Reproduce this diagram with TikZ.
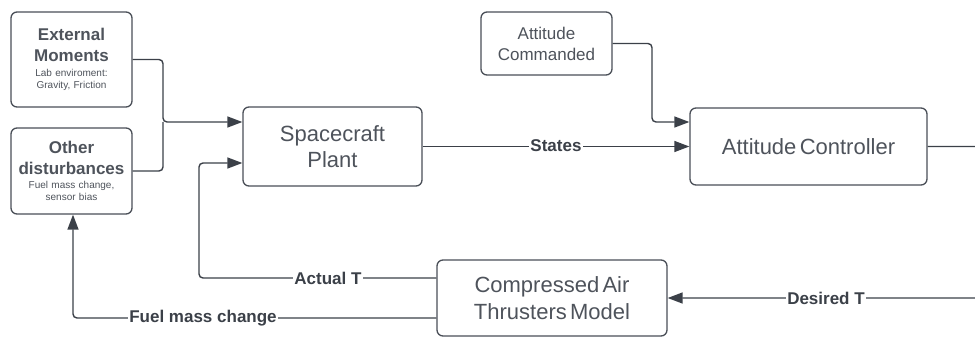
\documentclass[tikz,border=0pt]{standalone}
\usepackage{fontspec}
\setmainfont{Liberation Sans}
\usetikzlibrary{arrows.meta}
\definecolor{ink}{HTML}{3B4048}
\definecolor{txt}{HTML}{4E535B}
\definecolor{frame}{HTML}{4A4F57}
\begin{document}
\begin{tikzpicture}[x=1pt,y=-1pt,
  box/.style={draw=frame, line width=1.3pt, rounded corners=6pt, align=center, inner sep=0pt, text=txt},
  wire/.style={draw=ink, line width=1.4pt, rounded corners=4pt},
  flow/.style={wire, -{Triangle[length=15pt,width=11pt]}},
  lbl/.style={fill=white, inner sep=1pt, text=ink, font=\fontsize{17}{20}\selectfont\bfseries}]
\useasboundingbox (0,0) rectangle (975,337);

% blocks
\node[box, minimum width=121pt, minimum height=95pt, text width=117pt] (em) at (71.5,59.5)
  {\fontsize{17}{21}\selectfont\bfseries External\\Moments\par\vspace{3pt}%
   \fontsize{10}{12}\selectfont\mdseries Lab enviroment:\\Gravity, Friction\par};
\node[box, minimum width=121pt, minimum height=86pt, text width=117pt] (od) at (71.5,171)
  {\fontsize{17}{21}\selectfont\bfseries Other\\disturbances\par\vspace{2pt}%
   \fontsize{10}{12}\selectfont\mdseries Fuel mass change,\\sensor bias\par};
\node[box, minimum width=179pt, minimum height=79pt, text width=175pt] (sp) at (332.5,146.5)
  {\fontsize{22}{26.5}\selectfont Spacecraft\\Plant\par};
\node[box, minimum width=131pt, minimum height=63pt, text width=127pt] (cmd) at (546.5,43.5)
  {\fontsize{17}{21}\selectfont Attitude\\Commanded\par};
\node[box, minimum width=237pt, minimum height=77pt, text width=233pt] (ac) at (808.5,146.5)
  {\fontsize{22}{26.5}\selectfont Attitude Controller\par};
\node[box, minimum width=230pt, minimum height=76pt, text width=226pt] (thr) at (552,298)
  {\fontsize{22}{26.5}\selectfont Compressed Air\\Thrusters Model\par};

% routing points
\coordinate (ja) at (163,122);
\coordinate (jb) at (199,163);
\coordinate (jc) at (652,122);
\coordinate (jd) at (73,318);
\coordinate (re) at (995,146.5);
\coordinate (rf) at (995,298);

% connectors
\draw[flow] (em.east) -| (ja) -- (sp.west |- ja);
\draw[wire] (od.east) -| (ja);
\draw[flow] (sp.east) -- (ac.west);
\draw[flow] (cmd.east) -| (jc) -- (ac.west |- jc);
\draw[flow] (ac.east) -- (re) -- (rf) -- (thr.east);
\draw[flow] ([yshift=20pt]thr.west) -| (jb) -- (sp.west |- jb);
\draw[flow] ([yshift=-20pt]thr.west) -- (jd) -- (jd |- od.south);

% connector labels
\node[lbl] (lstates) at (556,146) {States};
\node[lbl] (lact) at (328,278) {Actual T};
\node[lbl] (lfuel) at (203,318) {Fuel mass change};
\node[lbl] (ldes) at (826,298) {Desired T};
\end{tikzpicture}
\end{document}
